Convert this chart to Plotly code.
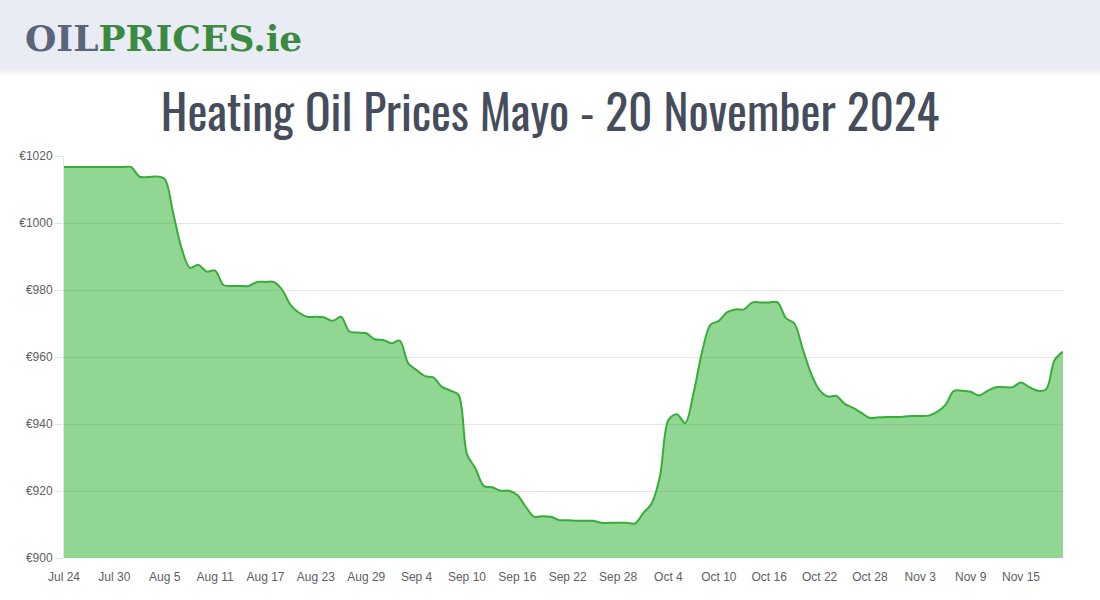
"""Heating oil price history for Mayo, Jul 24 - Nov 20 2024."""

import pandas as pd
import plotly.graph_objects as go

# ---------------------------------------------------------------------------
# Data: one price per day
# ---------------------------------------------------------------------------

START_DATE = "2024-07-24"
END_DATE = "2024-11-20"

prices = [
    1016.7, 1016.7, 1016.7, 1016.7, 1016.7, 1016.7, 1016.7, 1016.7, 1016.7, 1013.8,
    1013.7, 1013.9, 1013.1, 1003.0, 992.5, 986.6, 987.5, 985.5, 985.8, 981.5,
    981.2, 981.2, 981.2, 982.4, 982.4, 982.4, 980.0, 975.5, 973.2, 972.0,
    972.0, 971.8, 970.8, 972.0, 967.6, 967.3, 967.1, 965.3, 965.1, 964.1,
    964.9, 958.1, 956.1, 954.3, 953.9, 951.1, 950.0, 948.7, 931.0, 926.8,
    921.5, 921.1, 920.1, 920.1, 918.8, 915.3, 912.3, 912.5, 912.3, 911.3,
    911.3, 911.1, 911.1, 911.1, 910.5, 910.5, 910.5, 910.5, 910.3, 913.4,
    916.3, 924.5, 941.2, 942.9, 940.3, 949.3, 961.5, 969.6, 970.8, 973.4,
    974.2, 974.2, 976.3, 976.3, 976.3, 976.3, 971.6, 970.0, 962.4, 955.0,
    950.1, 948.2, 948.4, 946.0, 944.8, 943.3, 941.8, 942.0, 942.1, 942.1,
    942.2, 942.4, 942.4, 942.5, 943.6, 945.7, 949.9, 949.9, 949.6, 948.5,
    949.9, 951.0, 951.0, 951.0, 952.4, 951.0, 949.9, 950.4, 959.1, 961.6,
]
dates = pd.date_range(START_DATE, END_DATE, freq="D")

Y_TICKS = [900, 920, 940, 960, 980, 1000, 1020]
Y_LABELS = [f"€{v}" for v in Y_TICKS]

TITLE = "Heating Oil Prices Mayo - 20 November 2024"

LINE_GREEN = "#36ad3a"
FILL_GREEN = "rgba(35,173,37,0.5)"
GRID = "#e4e4e4"
TICK_TEXT = "#606060"

# plot area in pixels (1100 x 600 page)
L, R, T, B = 64, 37, 156, 42
PLOT_W = 1100 - L - R
PLOT_H = 600 - T - B


def px_x(x):
    return (x - L) / PLOT_W


def px_y(y):
    return (600 - B - y) / PLOT_H


fig = go.Figure()
fig.add_trace(go.Scatter(
    x=dates, y=prices,
    mode="lines",
    line=dict(color=LINE_GREEN, width=2, shape="spline", smoothing=0.9),
    fill="tozeroy",
    fillcolor=FILL_GREEN,
    hovertemplate="%{x|%d %b}: €%{y:.2f}<extra></extra>",
))

# header band with a soft shadow
shapes = [dict(
    type="rect", xref="paper", yref="paper",
    x0=px_x(-5), x1=px_x(1105), y0=px_y(70), y1=px_y(-5),
    fillcolor="#e9ecf4", line=dict(width=0), layer="below",
)]
for i, a in enumerate([0.05, 0.03, 0.015]):
    shapes.append(dict(
        type="rect", xref="paper", yref="paper",
        x0=px_x(-5), x1=px_x(1105), y0=px_y(70 + 2 * (i + 1)), y1=px_y(70 + 2 * i),
        fillcolor=f"rgba(0,0,0,{a})", line=dict(width=0), layer="below",
    ))

fig.update_layout(
    width=1100, height=600,
    margin=dict(l=L, r=R, t=T, b=B),
    paper_bgcolor="white",
    plot_bgcolor="white",
    showlegend=False,
    font=dict(family="Liberation Sans, Arial, sans-serif", size=12, color=TICK_TEXT),
    title=dict(
        text=TITLE,
        x=0.5, xref="container", xanchor="center",
        y=1 - 114 / 600, yref="container", yanchor="middle",
        font=dict(family="Oswald, Liberation Sans Narrow, DejaVu Sans Condensed, sans-serif",
                  size=47.5, color="#454d5c"),
    ),
    xaxis=dict(
        type="date",
        range=[START_DATE, END_DATE],
        tick0=START_DATE, dtick=6 * 86400000,
        tickformat="%b %-d",
        showgrid=False, zeroline=False, showline=False,
        ticks="outside", ticklen=8, tickcolor="rgba(0,0,0,0)",
        tickfont=dict(size=12, color=TICK_TEXT),
    ),
    yaxis=dict(
        range=[900, 1020],
        tickvals=Y_TICKS, ticktext=Y_LABELS,
        showgrid=True, gridcolor=GRID, gridwidth=1,
        zeroline=False,
        showline=True, linecolor=GRID, linewidth=1,
        ticks="outside", ticklen=8, tickcolor=GRID,
        tickfont=dict(size=12, color=TICK_TEXT),
    ),
    shapes=shapes,
    annotations=[dict(
        xref="paper", yref="paper",
        x=px_x(23), y=px_y(38), xanchor="left", yanchor="middle",
        showarrow=False,
        text="<b>OIL</b><span style='color:#3a8b3f'><b>PRICES.ie</b></span>",
        font=dict(family="DejaVu Serif, serif", size=36, color="#5b6579"),
    )],
)

fig.write_html(
    "out.html",
    config={"displayModeBar": False},
    post_script="document.body.style.margin='0';",
)
